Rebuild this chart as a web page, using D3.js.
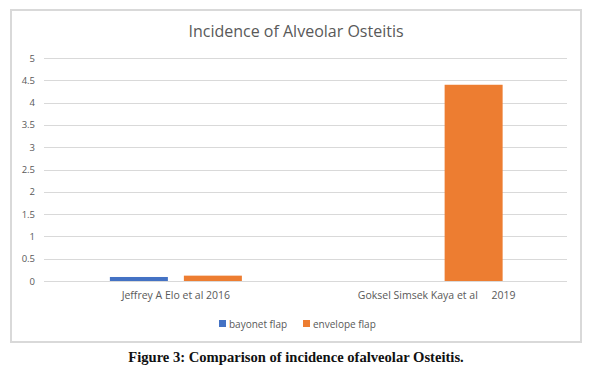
<!DOCTYPE html>
<html><head><meta charset="utf-8">
<script src="https://cdn.jsdelivr.net/npm/d3@7"></script>
<style>
body{margin:0;background:#fff;}
svg{display:block;}
</style>
</head><body>
<svg id="c" width="592" height="373"></svg>
<script>
const categories = ["Jeffrey A Elo et al 2016", "Goksel Simsek Kaya et al     2019"];
const seriesNames = ["bayonet flap", "envelope flap"];
const bayonet = [0.09, 0];
const envelope = [0.12, 4.4];
const yTicks = [0, 0.5, 1, 1.5, 2, 2.5, 3, 3.5, 4, 4.5, 5];
const colors = ["#4472c4", "#ed7d31"];
const title = "Incidence of Alveolar Osteitis";
const caption = "Figure 3: Comparison of incidence ofalveolar Osteitis.";

(function(){
const svg = d3.select("#c");
const font = "'Open Sans', 'Liberation Sans', sans-serif";

svg.append("rect").attr("x", 11).attr("y", 10).attr("width", 570).attr("height", 332)
  .attr("fill", "#fff").attr("stroke", "#d9d9d9").attr("stroke-width", 2);

svg.append("text").attr("x", 296).attr("y", 37).attr("text-anchor", "middle")
  .attr("font-family", font).attr("font-size", 16).attr("fill", "#595959").text(title);

const pL = 45.5, pR = 567, pT = 58, pB = 281;
const x = d3.scaleBand().domain(categories).range([pL, pR]);
const y = d3.scaleLinear().domain([0, 5]).range([pB, pT]);
const bw = x.bandwidth();
const xs = d3.scaleBand().domain(seriesNames).range([bw/2 - 66, bw/2 + 66]).paddingInner(16/74);

svg.append("g").selectAll("line").data(yTicks).join("line")
  .attr("x1", 44).attr("x2", 567).attr("y1", d => Math.round(y(d)) + 0.5).attr("y2", d => Math.round(y(d)) + 0.5)
  .attr("stroke", "#d9d9d9").attr("stroke-width", 1);

const yAxis = d3.axisLeft(y).tickValues(yTicks).tickSize(0).tickPadding(0).tickFormat(d => String(d));
const ya = svg.append("g").attr("transform", "translate(35,0)").call(yAxis);
ya.select(".domain").remove();
ya.selectAll("text").attr("font-family", font).attr("font-size", 9.5).attr("fill", "#595959");

const data = [bayonet, envelope];
categories.forEach((c, i) => {
  seriesNames.forEach((s, j) => {
    const v = data[j][i];
    if (v <= 0) return;
    svg.append("rect").attr("x", x(c) + xs(s)).attr("width", xs.bandwidth())
      .attr("y", y(v)).attr("height", y(0) - y(v)).attr("fill", colors[j]);
  });
});

const xAxis = d3.axisBottom(x).tickSize(0).tickPadding(0);
const xa = svg.append("g").attr("transform", `translate(0,${pB + 11})`).call(xAxis);
xa.select(".domain").remove();
xa.selectAll("text").attr("font-family", font).attr("font-size", 10.5).attr("fill", "#595959")
  .attr("dy", "0.71em").style("white-space", "pre");

const legendItems = [{name: seriesNames[0], c: colors[0], x: 219}, {name: seriesNames[1], c: colors[1], x: 303}];
const lg = svg.append("g");
legendItems.forEach(it => {
  lg.append("rect").attr("x", it.x).attr("y", 320).attr("width", 7).attr("height", 7).attr("fill", it.c);
  lg.append("text").attr("x", it.x + 10).attr("y", 327.5).attr("font-family", font).attr("font-size", 10)
    .attr("fill", "#595959").text(it.name);
});

svg.append("text").attr("x", 296).attr("y", 362).attr("text-anchor", "middle")
  .attr("font-family", "'Liberation Serif', 'DejaVu Serif', serif").attr("font-weight", "bold")
  .attr("font-size", 14.6).attr("fill", "#111").text(caption);
})();
</script>
</body></html>
